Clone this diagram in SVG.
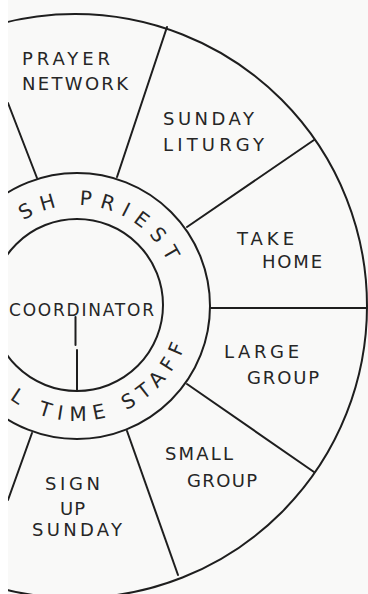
<svg xmlns="http://www.w3.org/2000/svg" width="368" height="594" viewBox="0 0 368 594">
<style>
.ln{fill:none;stroke:#1e1e1e;stroke-width:2;stroke-linecap:round}
.lb{font-family:"DejaVu Sans","Liberation Sans",sans-serif;font-size:18px;fill:#262626}
.rt{font-family:"DejaVu Sans","Liberation Sans",sans-serif;font-size:20px;fill:#262626}
</style>
<defs>
<path id="topArc" d="M12.1,228.6 A101,101 0 0 1 174.6,279.9"/>
<path id="botArc" d="M-11.1,379.9 A115,115 0 0 0 191.6,316"/>
</defs>
<rect width="368" height="594" fill="#f9f9f8"/>
<g id="wheel">
<circle class="ln" cx="75" cy="306" r="292"/>
<circle class="ln" cx="77" cy="306" r="133"/>
<circle class="ln" cx="77" cy="305" r="86"/>
</g>
<g id="connectors">
<line class="ln" x1="37" y1="178" x2="8" y2="103"/>
<line class="ln" x1="117" y1="177" x2="167" y2="27"/>
<line class="ln" x1="187" y1="227" x2="314" y2="140"/>
<line class="ln" x1="211" y1="308" x2="367" y2="308"/>
<line class="ln" x1="187" y1="384" x2="314" y2="472"/>
<line class="ln" x1="127" y1="431" x2="178" y2="575"/>
<line class="ln" x1="32" y1="433" x2="8" y2="500"/>
<line class="ln" x1="75.5" y1="317" x2="75.5" y2="345" stroke-width="1.6"/>
<line class="ln" x1="77" y1="350" x2="77" y2="391" stroke-width="1.6"/>
</g>
<g id="prayer-network"><text class="lb" x="22" y="65" textLength="88" lengthAdjust="spacing">PRAYER</text><text class="lb" x="22" y="90" textLength="106" lengthAdjust="spacing">NETWORK</text></g>
<g id="sunday-liturgy"><text class="lb" x="163" y="125" textLength="91" lengthAdjust="spacing">SUNDAY</text><text class="lb" x="163" y="151" textLength="101" lengthAdjust="spacing">LITURGY</text></g>
<g id="take-home"><text class="lb" x="237" y="245" textLength="57" lengthAdjust="spacing">TAKE</text><text class="lb" x="262" y="268" textLength="60" lengthAdjust="spacing">HOME</text></g>
<g id="large-group"><text class="lb" x="224" y="358" textLength="75" lengthAdjust="spacing">LARGE</text><text class="lb" x="247" y="384" textLength="72" lengthAdjust="spacing">GROUP</text></g>
<g id="small-group"><text class="lb" x="165" y="460" textLength="68" lengthAdjust="spacing">SMALL</text><text class="lb" x="187" y="487" textLength="70" lengthAdjust="spacing">GROUP</text></g>
<g id="sign-up-sunday"><text class="lb" x="45" y="490" textLength="55" lengthAdjust="spacing">SIGN</text><text class="lb" x="60" y="515" textLength="25" lengthAdjust="spacing">UP</text><text class="lb" x="32" y="536" textLength="90" lengthAdjust="spacing">SUNDAY</text></g>
<g id="coordinator"><text class="lb" x="9" y="316" textLength="145" lengthAdjust="spacing" style="font-size:17px">COORDINATOR</text></g>
<g id="parish-priest"><text class="rt"><textPath href="#topArc" startOffset="14" textLength="169" lengthAdjust="spacing">SH PRIEST</textPath></text></g>
<g id="full-time-staff"><text class="rt"><textPath href="#botArc" startOffset="28" textLength="212" lengthAdjust="spacing">L TIME STAFF</textPath></text></g>
<rect x="0" y="0" width="8" height="594" fill="#ffffff"/>
</svg>
